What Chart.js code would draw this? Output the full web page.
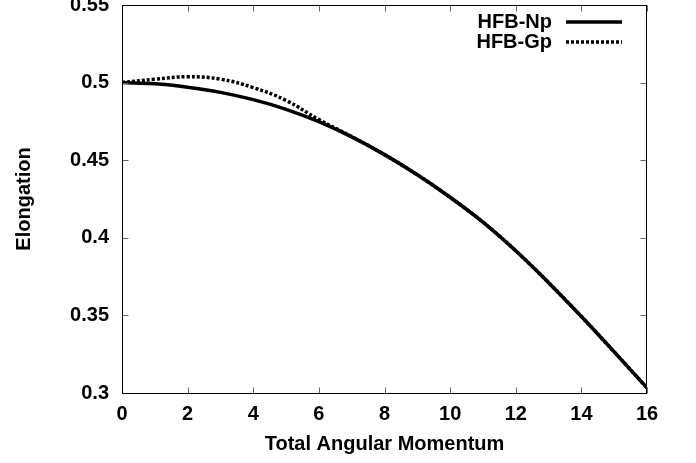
<!DOCTYPE html>
<html lang="en">
<head>
  <meta charset="UTF-8" />
  <title>Elongation vs Total Angular Momentum</title>
  <style>
    html, body {
      margin: 0;
      padding: 0;
      background: #fff;
    }
  </style>
</head>
<body>
  <canvas id="elongChart" width="696" height="463"></canvas>

  <script src="https://cdn.jsdelivr.net/npm/chart.js"></script>
  <script>
    // total angular momentum values
    const spins = [0, 1, 2, 3, 4, 5, 6, 7, 8, 9, 10, 11, 12, 13, 14, 15, 16];
    // elongation, HFB with number projection
    const elongNp = [0.5000, 0.4992, 0.4970, 0.4937, 0.4890, 0.4828, 0.4748, 0.4650, 0.4536,
                     0.4406, 0.4261, 0.4101, 0.3916, 0.3711, 0.3493, 0.3265, 0.3033];
    // elongation, HFB with gauge projection
    const elongGp = [0.5000, 0.5022, 0.5038, 0.5022, 0.4968, 0.4885, 0.4762, 0.4652, 0.4536,
                     0.4406, 0.4261, 0.4101, 0.3916, 0.3711, 0.3493, 0.3265, 0.3033];
    const xTickLabels = ['0', '2', '4', '6', '8', '10', '12', '14', '16'];
    const yTickLabels = ['0.3', '0.35', '0.4', '0.45', '0.5', '0.55'];

    const FONT = "'Liberation Sans', Arial, sans-serif";

    function points(ys) {
      return spins.map((s, i) => ({ x: s, y: ys[i] }));
    }

    // box around the plot with small inward ticks on all four sides
    const frameTicks = {
      id: 'frameTicks',
      afterDraw(chart) {
        const { ctx, chartArea: a, scales: { x, y } } = chart;
        const L = Math.round(a.left) + 0.5, R = Math.round(a.right) - 0.5;
        const T = Math.round(a.top) + 0.5, B = Math.round(a.bottom) + 0.5;
        const len = 6;
        ctx.save();
        ctx.strokeStyle = '#666';
        ctx.lineWidth = 1;
        ctx.beginPath();
        x.ticks.forEach(t => {
          const px = Math.round(x.getPixelForValue(t.value)) + 0.5;
          ctx.moveTo(px, B); ctx.lineTo(px, B - len);
          ctx.moveTo(px, T); ctx.lineTo(px, T + len);
        });
        y.ticks.forEach(t => {
          const py = Math.round(y.getPixelForValue(t.value)) + 0.5;
          ctx.moveTo(L, py); ctx.lineTo(L + len, py);
          ctx.moveTo(R, py); ctx.lineTo(R - len, py);
        });
        ctx.stroke();
        ctx.strokeStyle = '#000';
        ctx.strokeRect(L, T, R - L, B - T);
        ctx.restore();
      }
    };

    // gnuplot-style key: label on the left, line sample on the right
    const keyPlugin = {
      id: 'keyPlugin',
      afterDraw(chart) {
        const { ctx } = chart;
        ctx.save();
        ctx.font = 'bold 20px ' + FONT;
        ctx.textAlign = 'right';
        ctx.textBaseline = 'middle';
        ctx.fillStyle = '#000';
        chart.data.datasets.forEach((ds, i) => {
          const yy = 22 + i * 20;
          ctx.fillText(ds.label, 552, yy);
          ctx.beginPath();
          ctx.lineWidth = ds.borderWidth;
          ctx.strokeStyle = ds.borderColor;
          ctx.setLineDash(ds.borderDash || []);
          ctx.moveTo(566, yy);
          ctx.lineTo(622, yy);
          ctx.stroke();
        });
        ctx.restore();
      }
    };

    const tickFont = { family: FONT, size: 20, weight: 'bold' };

    new Chart(document.getElementById('elongChart'), {
      type: 'line',
      data: {
        datasets: [
          {
            label: 'HFB-Np',
            data: points(elongNp),
            borderColor: '#000',
            borderWidth: 3.5,
            pointRadius: 0,
            tension: 0.4,
            fill: false
          },
          {
            label: 'HFB-Gp',
            data: points(elongGp),
            borderColor: '#000',
            borderWidth: 3.5,
            borderDash: [3, 2],
            pointRadius: 0,
            tension: 0.4,
            fill: false
          }
        ]
      },
      options: {
        responsive: false,
        animation: false,
        devicePixelRatio: 1,
        layout: { padding: { top: 5, right: 49, left: 0, bottom: 0 } },
        plugins: {
          legend: { display: false },
          tooltip: { enabled: false }
        },
        scales: {
          x: {
            type: 'linear',
            min: 0,
            max: 16,
            afterFit: s => { s.height = 70; s.paddingLeft = 0; s.paddingRight = 0; },
            grid: { display: false, drawTicks: false, tickLength: 0 },
            border: { display: false },
            ticks: {
              stepSize: 2,
              padding: 9,
              maxRotation: 0,
              color: '#000',
              font: tickFont,
              callback: (v, i) => xTickLabels[i]
            },
            title: {
              display: true,
              text: 'Total Angular Momentum',
              color: '#000',
              font: tickFont,
              padding: { top: 0, bottom: 7 }
            }
          },
          y: {
            min: 0.3,
            max: 0.55,
            afterFit: s => { s.width = 122; s.paddingTop = 0; s.paddingBottom = 0; },
            grid: { display: false, drawTicks: false, tickLength: 0 },
            border: { display: false },
            ticks: {
              stepSize: 0.05,
              padding: 13,
              color: '#000',
              font: tickFont,
              callback: (v, i) => yTickLabels[i]
            },
            title: {
              display: true,
              text: 'Elongation',
              color: '#000',
              font: tickFont,
              padding: { top: 12, bottom: 0 }
            }
          }
        }
      },
      plugins: [frameTicks, keyPlugin]
    });
  </script>
</body>
</html>
